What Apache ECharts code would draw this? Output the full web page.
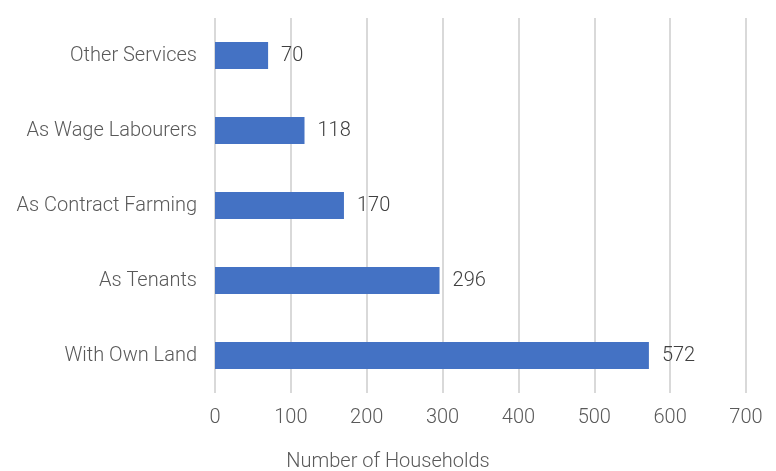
<!DOCTYPE html>
<html>
<head>
<meta charset="utf-8">
<script src="https://cdn.jsdelivr.net/npm/echarts@6/dist/echarts.min.js"></script>
<style>
  html, body { margin: 0; padding: 0; background: #fff; }
  #chart { width: 776px; height: 471px; }
</style>
</head>
<body>
<div id="chart"></div>
<script>
// Household occupation categories, bottom to top
const categories = ['With Own Land', 'As Tenants', 'As Contract Farming', 'As Wage Labourers', 'Other Services'];
const households = [572, 296, 170, 118, 70];
const xTicks = { min: 0, max: 700, interval: 100 };
const axisTitle = 'Number of Households';

const font = 'Roboto, "Noto Sans", sans-serif';
const chart = echarts.init(document.getElementById('chart'));
chart.setOption({
  backgroundColor: '#ffffff',
  animation: false,
  title: {
    text: axisTitle,
    left: 'center',
    top: 447,
    textStyle: { fontFamily: font, fontWeight: 300, fontSize: 20, color: '#595959' }
  },
  grid: { left: 215, right: 30, top: 18, bottom: 78, containLabel: false },
  xAxis: {
    type: 'value',
    min: xTicks.min,
    max: xTicks.max,
    interval: xTicks.interval,
    axisLine: { show: false },
    axisTick: { show: false },
    splitLine: { show: true, lineStyle: { color: '#d9d9d9', width: 2 } },
    axisLabel: { fontFamily: font, fontWeight: 300, fontSize: 20, color: '#595959', margin: 15 }
  },
  yAxis: {
    type: 'category',
    data: categories,
    axisLine: { show: false },
    axisTick: { show: false },
    axisLabel: { fontFamily: font, fontWeight: 300, fontSize: 20, color: '#595959', margin: 18 }
  },
  series: [{
    type: 'bar',
    data: households,
    barWidth: 27,
    itemStyle: { color: '#4472C4' },
    label: {
      show: true,
      position: 'right',
      distance: 13,
      fontFamily: font,
      fontWeight: 300,
      fontSize: 20,
      color: '#404040'
    }
  }]
});
</script>
</body>
</html>
